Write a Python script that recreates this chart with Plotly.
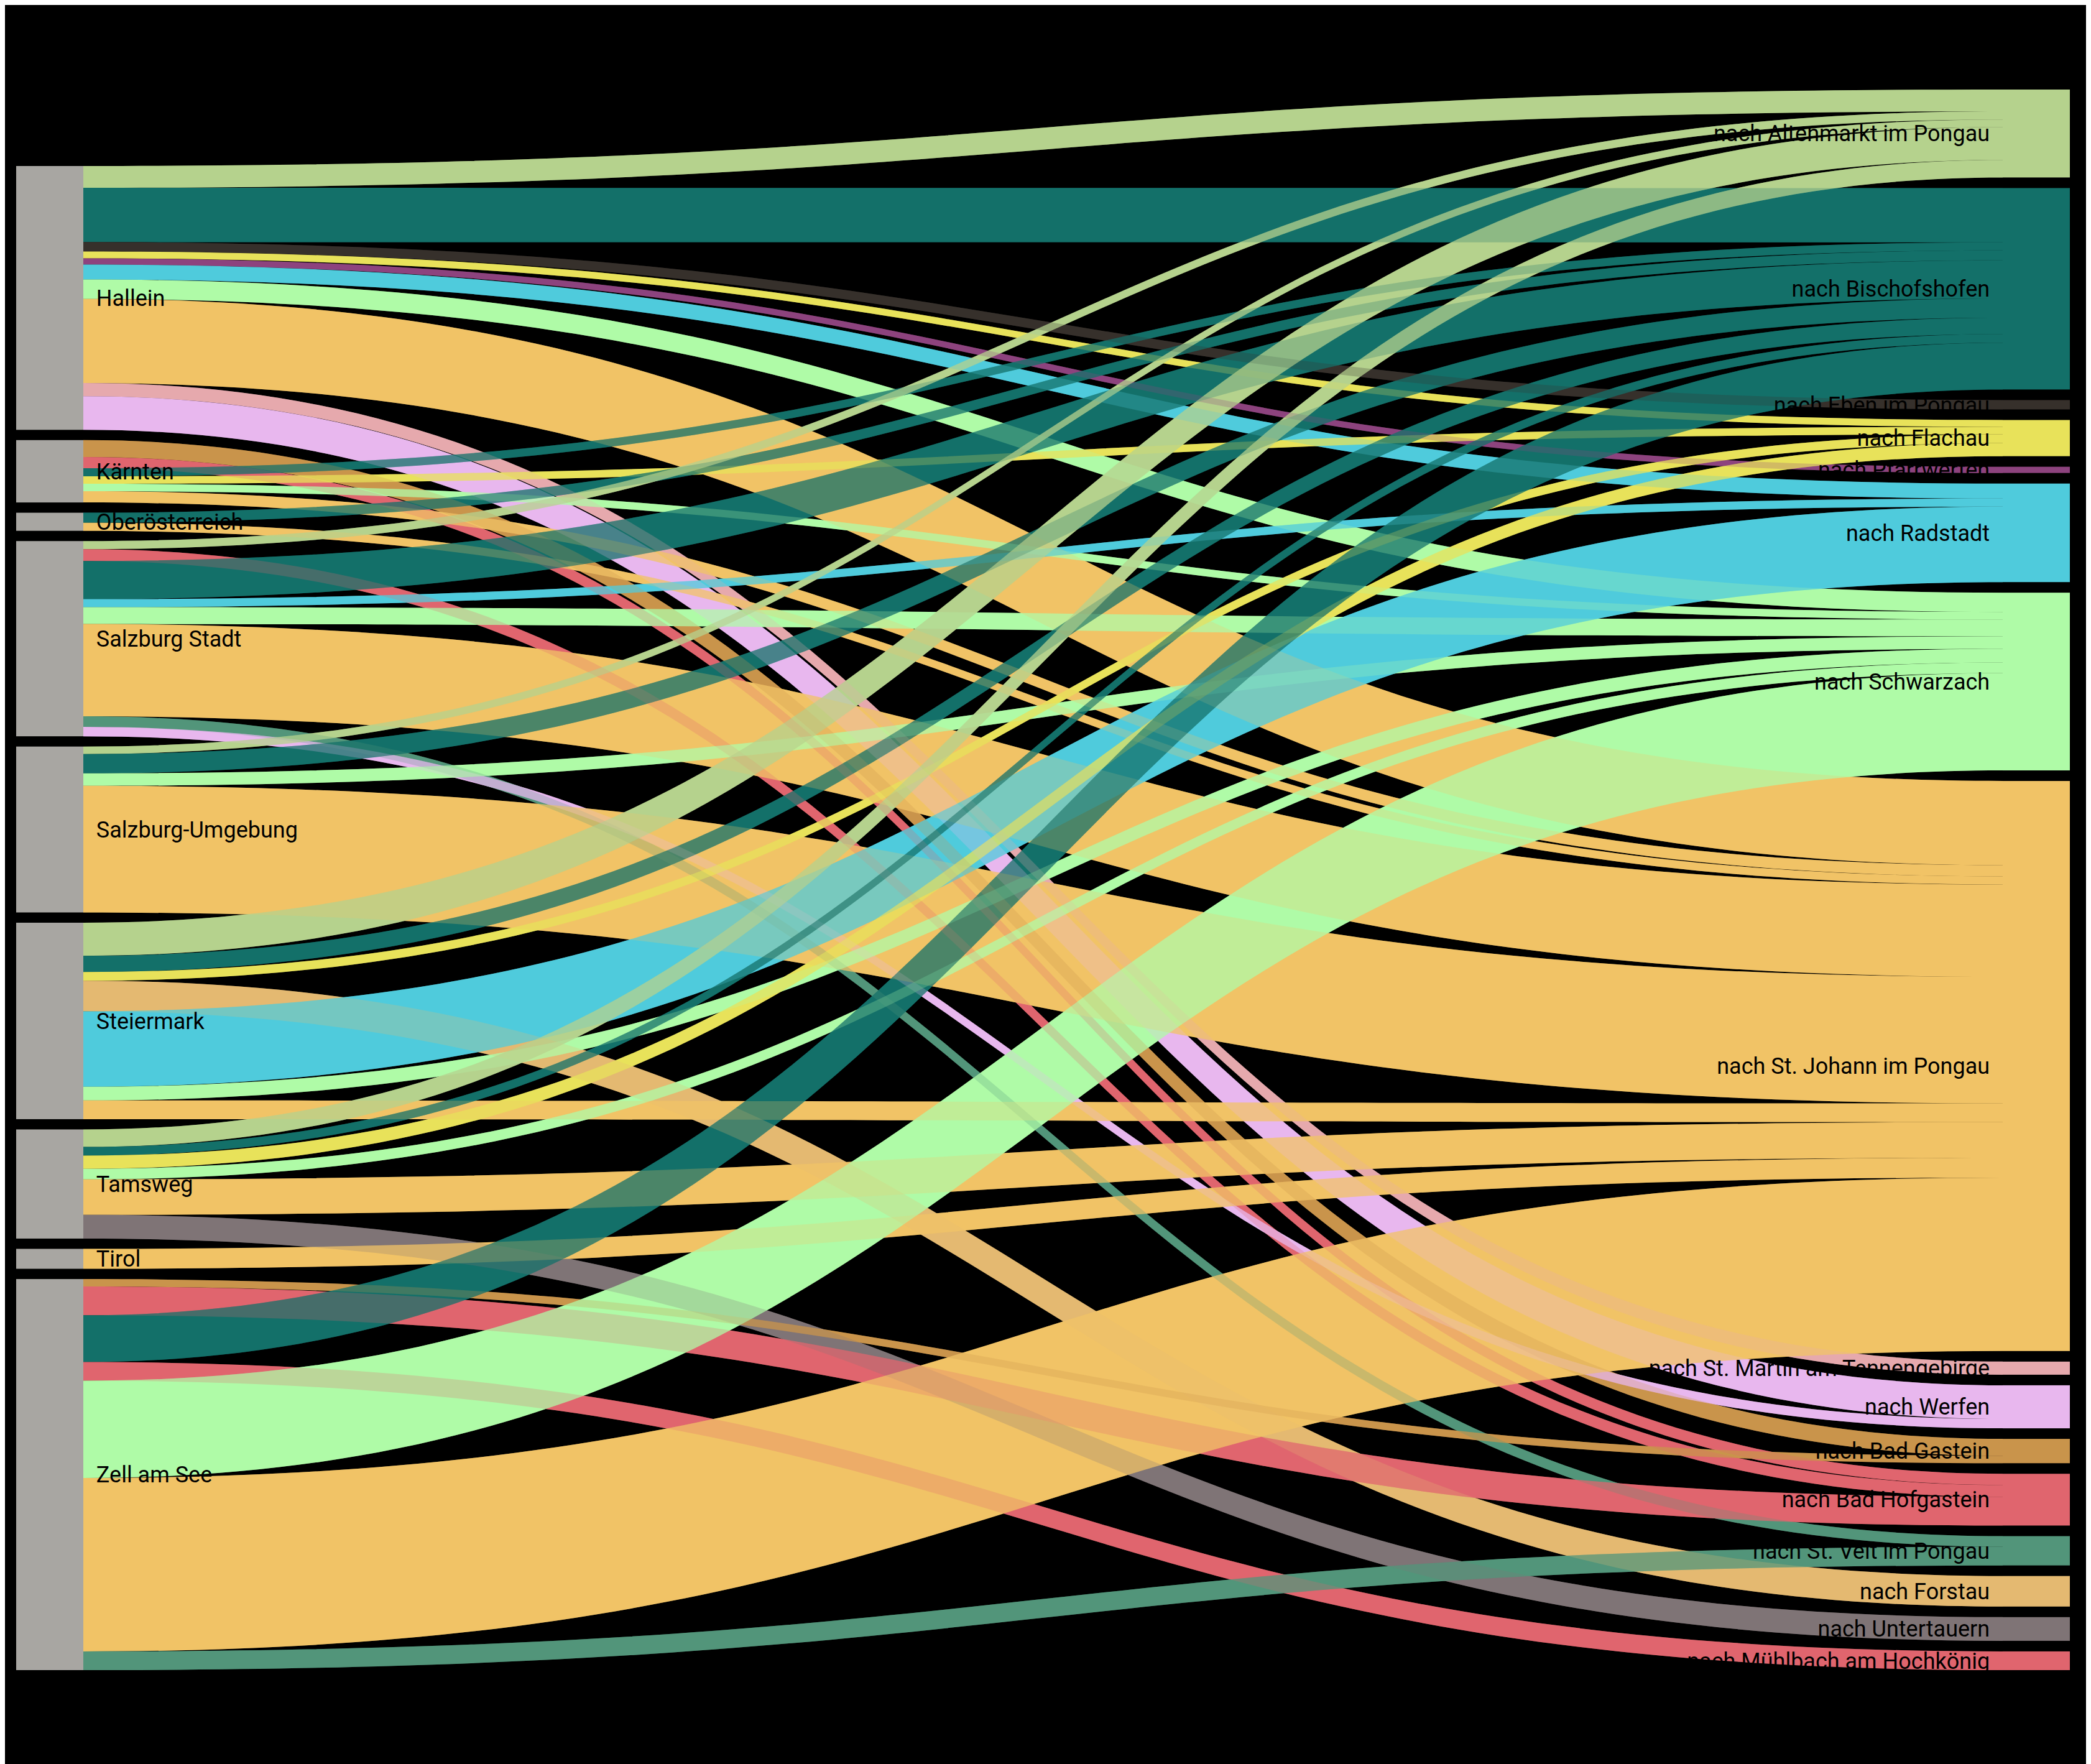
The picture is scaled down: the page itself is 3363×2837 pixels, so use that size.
import plotly.graph_objects as go

# ---------------- data ----------------
origins = ["Hallein", "Kärnten", "Oberösterreich", "Salzburg Stadt", "Salzburg-Umgebung",
           "Steiermark", "Tamsweg", "Tirol", "Zell am See"]
destinations = ["nach Altenmarkt im Pongau", "nach Bad Gastein", "nach Bad Hofgastein",
                "nach Bischofshofen", "nach Eben im Pongau", "nach Flachau", "nach Forstau",
                "nach Mühlbach am Hochkönig", "nach Pfarrwerfen", "nach Radstadt",
                "nach Schwarzach", "nach St. Johann im Pongau",
                "nach St. Martin am Tennengebirge", "nach St. Veit im Pongau",
                "nach Untertauern", "nach Werfen"]
# order of the destination column from top to bottom
destination_order = ["nach Altenmarkt im Pongau", "nach Bischofshofen", "nach Eben im Pongau",
                     "nach Flachau", "nach Pfarrwerfen", "nach Radstadt", "nach Schwarzach",
                     "nach St. Johann im Pongau", "nach St. Martin am Tennengebirge",
                     "nach Werfen", "nach Bad Gastein", "nach Bad Hofgastein",
                     "nach St. Veit im Pongau", "nach Forstau", "nach Untertauern",
                     "nach Mühlbach am Hochkönig"]
dest_colors = ["#b5d28d", "#c9944b", "#e0656e", "#137069", "#36302b", "#e8e25a", "#e4b971",
               "#e0656e", "#8d437e", "#4fcbdc", "#affba7", "#f1c366", "#e6a9ad", "#52957a",
               "#7f7476", "#e8b7ee"]
origin_color = "#a8a6a2"

link_origin = ["Hallein"] * 10 + ["Kärnten"] * 6 + ["Oberösterreich"] * 2 + \
              ["Salzburg Stadt"] * 8 + ["Salzburg-Umgebung"] * 4 + ["Steiermark"] * 7 + \
              ["Tamsweg"] * 6 + ["Tirol"] + ["Zell am See"] * 7
link_dest = [
    # Hallein
    "nach Altenmarkt im Pongau", "nach Bischofshofen", "nach Eben im Pongau", "nach Flachau",
    "nach Pfarrwerfen", "nach Radstadt", "nach Schwarzach", "nach St. Johann im Pongau",
    "nach St. Martin am Tennengebirge", "nach Werfen",
    # Kärnten
    "nach Bad Gastein", "nach Bad Hofgastein", "nach Bischofshofen", "nach Flachau",
    "nach Schwarzach", "nach St. Johann im Pongau",
    # Oberösterreich
    "nach Bischofshofen", "nach St. Johann im Pongau",
    # Salzburg Stadt
    "nach Altenmarkt im Pongau", "nach Bad Hofgastein", "nach Bischofshofen", "nach Radstadt",
    "nach Schwarzach", "nach St. Johann im Pongau", "nach St. Veit im Pongau", "nach Werfen",
    # Salzburg-Umgebung
    "nach Altenmarkt im Pongau", "nach Bischofshofen", "nach Schwarzach",
    "nach St. Johann im Pongau",
    # Steiermark
    "nach Altenmarkt im Pongau", "nach Bischofshofen", "nach Flachau", "nach Forstau",
    "nach Radstadt", "nach Schwarzach", "nach St. Johann im Pongau",
    # Tamsweg
    "nach Altenmarkt im Pongau", "nach Bischofshofen", "nach Flachau", "nach Schwarzach",
    "nach St. Johann im Pongau", "nach Untertauern",
    # Tirol
    "nach St. Johann im Pongau",
    # Zell am See
    "nach Bad Gastein", "nach Bad Hofgastein", "nach Bischofshofen",
    "nach Mühlbach am Hochkönig", "nach Schwarzach", "nach St. Johann im Pongau",
    "nach St. Veit im Pongau",
]
link_value = [
    35, 87, 15, 11, 10, 24, 31, 135, 21, 54,
    27, 18, 13, 12, 12, 18,
    16, 13,
    13, 19, 61, 13, 27, 148, 17, 15,
    12, 31, 20, 203,
    53, 26, 14, 49, 121, 22, 30,
    28, 14, 21, 17, 57, 38,
    32,
    12, 46, 75, 30, 156, 278, 30,
]

# ---------------- layout parameters ----------------
W, H = 3363, 2837
M_L, M_R, M_T, M_B = 18, 42, 136, 159
PAD = 17
THICK = 108
LEFT_GAP = 16.5
PW, PH = W - M_L - M_R, H - M_T - M_B
FONT = dict(family="Roboto", size=36, color="black")
NBSP2 = "\u00a0\u00a0"
CLEAR = "rgba(0,0,0,0)"

# ---------------- build ----------------
labels = origins + destinations
idx = {name: i for i, name in enumerate(labels)}
node_colors = [origin_color] * len(origins) + dest_colors
dcol = dict(zip(destinations, dest_colors))
link_colors = [dcol[d] for d in link_dest]
shown_labels = [NBSP2 + o for o in origins] + [d + NBSP2 for d in destinations]


def rgba(hexcol, a):
    h = hexcol.lstrip("#")
    return "rgba(%d,%d,%d,%.2f)" % (int(h[0:2], 16), int(h[2:4], 16), int(h[4:6], 16), a)


# node totals and pixel scale (same rule as d3-sankey: the fuller column decides)
total = float(sum(link_value))
ky = (PH - (len(destinations) - 1) * PAD) / total
orig_val = {o: 0.0 for o in origins}
dest_val = {d: 0.0 for d in destinations}
for o, d, v in zip(link_origin, link_dest, link_value):
    orig_val[o] += v
    dest_val[d] += v

x_left = (THICK / 2) / PW
x_right = (PW - THICK / 2) / PW
top = {}
node_x = [0.0] * len(labels)
node_y = [0.0] * len(labels)
y = PH - (total * ky + (len(origins) - 1) * LEFT_GAP)   # origin column packed to the bottom
for name in origins:
    h = orig_val[name] * ky
    top[name] = y
    node_x[idx[name]] = x_left
    node_y[idx[name]] = (y + h / 2) / PH
    y += h + LEFT_GAP
y = 0.0
for name in destination_order:
    h = dest_val[name] * ky
    top[name] = y
    node_x[idx[name]] = x_right
    node_y[idx[name]] = (y + h / 2) / PH
    y += h + PAD

# band positions: at each origin the flows are stacked in alphabetical destination order,
# at each destination in origin order
n_links = len(link_value)
ys = [0.0] * n_links
yt = [0.0] * n_links
off = {}
for i in sorted(range(n_links), key=lambda i: (origins.index(link_origin[i]),
                                               destinations.index(link_dest[i]))):
    w = link_value[i] * ky
    o = link_origin[i]
    ys[i] = top[o] + off.get(o, 0.0) + w / 2
    off[o] = off.get(o, 0.0) + w
for i in sorted(range(n_links), key=lambda i: (destinations.index(link_dest[i]),
                                               origins.index(link_origin[i]))):
    w = link_value[i] * ky
    d = link_dest[i]
    yt[i] = top[d] + off.get(d, 0.0) + w / 2
    off[d] = off.get(d, 0.0) + w


def flow_trace(i, color):
    # one flow per trace; a transparent balancing flow keeps the same value->pixel scale
    return go.Sankey(
        arrangement="fixed", hoverinfo="skip",
        node=dict(label=["", "", "", ""], color=[CLEAR] * 4, pad=PAD * (len(destinations) - 1),
                  thickness=THICK, line=dict(width=0),
                  x=[x_left, x_right, 0, 0], y=[ys[i] / PH, yt[i] / PH, 0, 0]),
        link=dict(source=[0, 2], target=[1, 3],
                  value=[link_value[i], total - link_value[i]],
                  color=[color, CLEAR]),
    )


traces = []
for i in range(n_links):                      # opaque layer
    traces.append(flow_trace(i, link_colors[i]))
for i in range(n_links):                      # translucent layer -> blended crossings
    traces.append(flow_trace(i, rgba(link_colors[i], 0.5)))

# nodes and labels on top
traces.append(go.Sankey(
    arrangement="fixed", hoverinfo="skip",
    node=dict(label=shown_labels, color=node_colors, pad=PAD, thickness=THICK,
              line=dict(width=0), x=node_x, y=node_y),
    link=dict(source=[idx[o] for o in link_origin], target=[idx[d] for d in link_dest],
              value=link_value, color=[CLEAR] * n_links),
    textfont=dict(family="Roboto", size=36, color="black", shadow="none"),
))

fig = go.Figure(traces)
fig.update_layout(
    width=W, height=H,
    paper_bgcolor="black", plot_bgcolor="black",
    margin=dict(l=M_L, r=M_R, t=M_T, b=M_B),
    font=FONT,
)
fig.write_html("out.html")
